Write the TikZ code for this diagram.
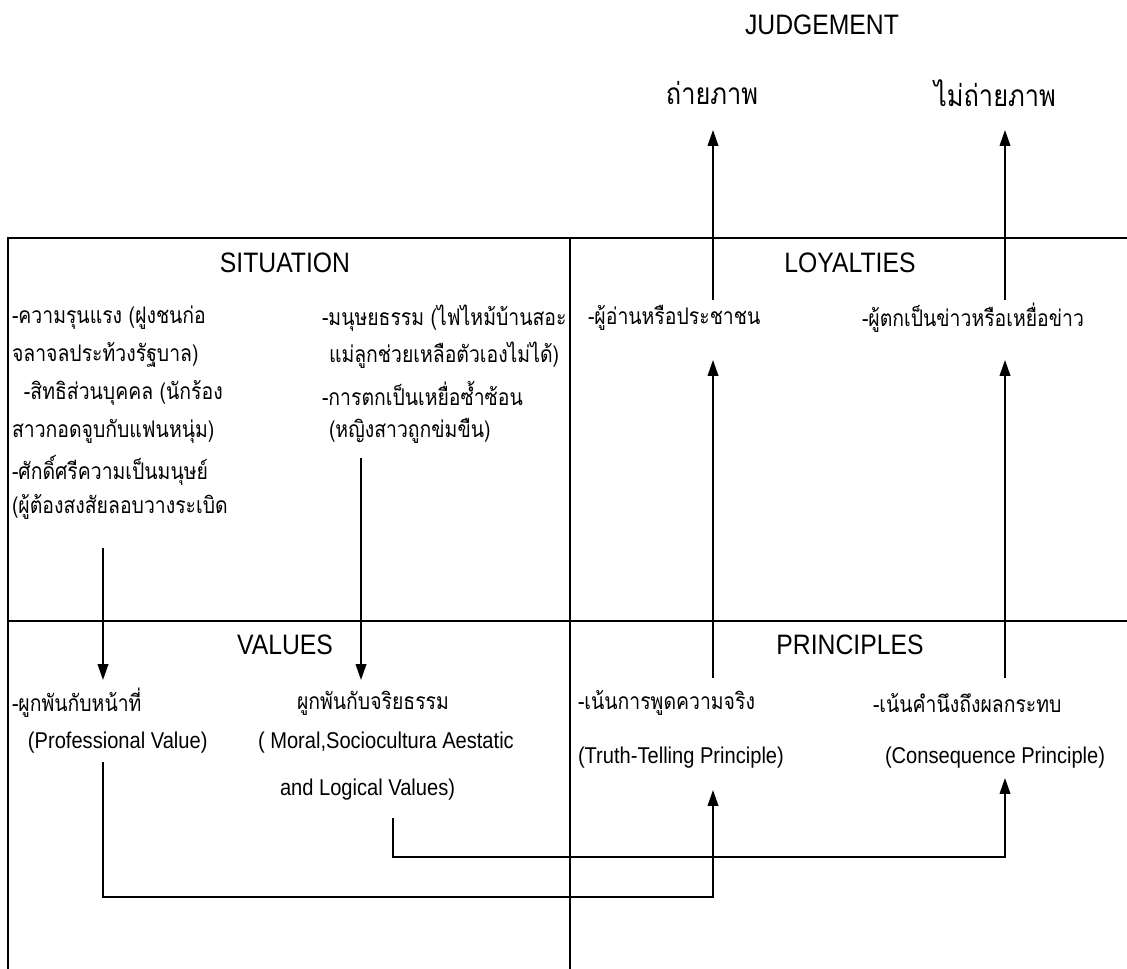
\documentclass[tikz,border=0pt]{standalone}
\usepackage{fontspec}
\setmainfont[FakeStretch=0.88]{Liberation Sans}
\newfontfamily\thaifont[Script=Thai,FakeStretch=0.85]{Loma}
\usetikzlibrary{arrows.meta}

\begin{document}
\begin{tikzpicture}[x=0.02cm,y=-0.02cm,inner sep=0pt,outer sep=0pt,line width=0.8pt,
headtext/.style={font=\fontsize{16}{18}\selectfont},
judgetext/.style={font=\thaifont\fontsize{17}{19}\selectfont},
thaitext/.style={anchor=west,font=\thaifont\fontsize{13}{15}\selectfont},
engtext/.style={anchor=west,font=\fontsize{13}{15}\selectfont},
arr/.style={-{Triangle[length=9pt,width=6pt]},line width=1pt}]

\useasboundingbox (0,0) rectangle (1127,969);

%%% Judgement on top %%%%%
\draw (822,25) node[headtext] (judge) {JUDGEMENT};
\draw (712,93) node[judgetext] (photo) {ถ่ายภาพ};
\draw (995,93) node[judgetext] (nophoto) {ไม่ถ่ายภาพ};

%%% Frame of the four fields
\draw (1127,238) -- (8,238) -- (8,969);
\draw (570,238) -- (570,969);
\draw (8,621) -- (1127,621);

%%% Headings
\draw (285,263) node[headtext] (situation) {SITUATION};
\draw (850,263) node[headtext] (loyalties) {LOYALTIES};
\draw (285,645) node[headtext] (values) {VALUES};
\draw (850,645) node[headtext] (principles) {PRINCIPLES};

%%% Situation, two columns
\draw (12,318) node[thaitext] (sit1) {-ความรุนแรง  (ฝูงชนก่อ};
\draw (12,355) node[thaitext] (sit2) {จลาจลประท้วงรัฐบาล)};
\draw (24,393) node[thaitext] (sit3) {-สิทธิส่วนบุคคล (นักร้อง};
\draw (12,431) node[thaitext] (sit4) {สาวกอดจูบกับแฟนหนุ่ม)};
\draw (12,470) node[thaitext] (sit5) {-ศักดิ์ศรีความเป็นมนุษย์};
\draw (12,507) node[thaitext] (sit6) {(ผู้ต้องสงสัยลอบวางระเบิด};
\draw (322,318) node[thaitext] (sit7) {-มนุษยธรรม (ไฟไหม้บ้านสอะ};
\draw (329,355) node[thaitext] (sit8) {แม่ลูกช่วยเหลือตัวเองไม่ได้)};
\draw (322,393) node[thaitext] (sit9) {-การตกเป็นเหยื่อซ้ำซ้อน};
\draw (329,431) node[thaitext] (sit10) {(หญิงสาวถูกข่มขืน)};

%%% Loyalties
\draw (588,318) node[thaitext] (reader) {-ผู้อ่านหรือประชาชน};
\draw (862,318) node[thaitext] (victim) {-ผู้ตกเป็นข่าวหรือเหยื่อข่าว};

%%% Values
\draw (12,703) node[thaitext] (duty) {-ผูกพันกับหน้าที่};
\draw (297,703) node[thaitext] (ethics) {ผูกพันกับจริยธรรม};
\draw (28,743) node[engtext] (profval) {(Professional Value)};
\draw (258,743) node[engtext] (moral) {( Moral,Sociocultura Aestatic};
\draw (280,790) node[engtext] (logical) {and Logical Values)};

%%% Principles
\draw (578,703) node[thaitext] (truth) {-เน้นการพูดความจริง};
\draw (873,703) node[thaitext] (conseq) {-เน้นคำนึงถึงผลกระทบ};
\draw (578,758) node[engtext] (truthp) {(Truth-Telling Principle)};
\draw (885,758) node[engtext] (conseqp) {(Consequence Principle)};

%%% Connector end points
\coordinate (loyA) at (713,300);  \coordinate (judA) at (713,130);
\coordinate (loyB) at (1005,300); \coordinate (judB) at (1005,130);
\coordinate (priA) at (713,678);  \coordinate (loyAin) at (713,360);
\coordinate (priB) at (1005,678); \coordinate (loyBin) at (1005,360);
\coordinate (sitA) at (103,548);  \coordinate (valA) at (103,680);
\coordinate (sitB) at (361,458);  \coordinate (valB) at (361,680);
\coordinate (profOut) at (103,762); \coordinate (profLow) at (103,897);
\coordinate (truthIn) at (713,790);
\coordinate (logOut) at (393,818); \coordinate (logLow) at (393,857);
\coordinate (conseqIn) at (1005,778);

%%% Upward to judgement
\draw[arr] (loyA) -- (judA);
\draw[arr] (loyB) -- (judB);
%%% Principles up to loyalties
\draw[arr] (priA) -- (loyAin);
\draw[arr] (priB) -- (loyBin);
%%% Situation down to values
\draw[arr] (sitA) -- (valA);
\draw[arr] (sitB) -- (valB);
%%% Values across to principles
\draw[arr] (profOut) -- (profLow) -| (truthIn);
\draw[arr] (logOut) -- (logLow) -| (conseqIn);

\end{tikzpicture}
\end{document}
